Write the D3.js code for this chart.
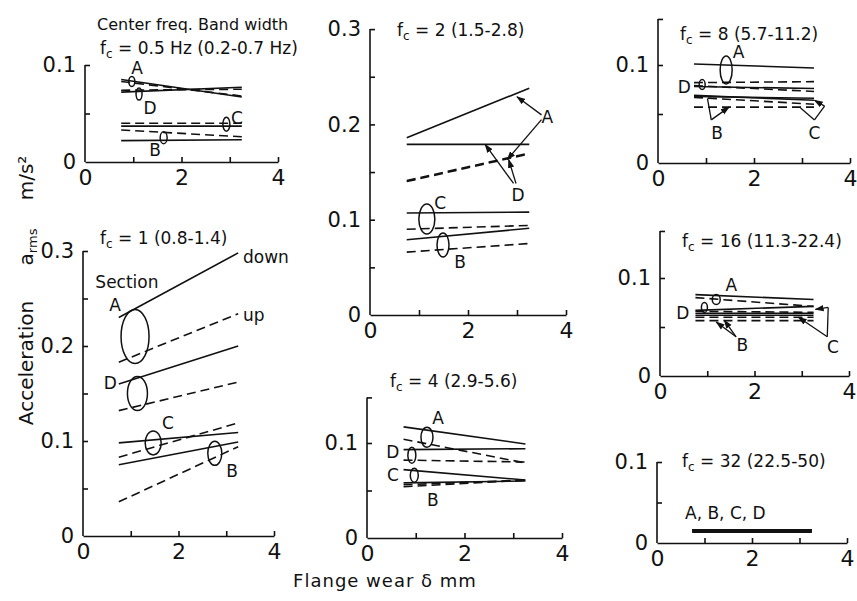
<!DOCTYPE html>
<html>
<head>
<meta charset="utf-8">
<script src="https://cdn.jsdelivr.net/npm/d3@7"></script>
<style>
  body { margin: 0; background: #fff; }
  svg text { font-family: "DejaVu Sans", sans-serif; fill: #111; }
</style>
</head>
<body>
<svg id="chart" width="857" height="601"></svg>
<script>
// flange wear range covered by the runs (mm)
var wear = [0.75, 3.25];

// centre frequencies and band widths of the seven panels
var centreFreqs = ["0.5 Hz", "1", "2", "4", "8", "16", "32"];
var bandWidths = ["(0.2-0.7 Hz)", "(0.8-1.4)", "(1.5-2.8)", "(2.9-5.6)", "(5.7-11.2)", "(11.3-22.4)", "(22.5-50)"];

// rows: section, running direction, a_rms at small wear, a_rms at large wear
var fc05 = [
  ["A", "down", 0.085, 0.067], ["A", "up", 0.083, 0.068],
  ["D", "down", 0.072, 0.077], ["D", "up", 0.074, 0.075],
  ["C", "down", 0.037, 0.037], ["C", "up", 0.040, 0.040],
  ["B", "down", 0.022, 0.023], ["B", "up", 0.033, 0.026]
];
var fc1 = [
  ["A", "down", 0.230, 0.298], ["A", "up", 0.183, 0.234],
  ["D", "down", 0.160, 0.200], ["D", "up", 0.132, 0.162],
  ["C", "down", 0.098, 0.109], ["C", "up", 0.083, 0.119],
  ["B", "down", 0.075, 0.099], ["B", "up", 0.036, 0.094]
];
var fc2 = [
  ["A", "down", 0.186, 0.238], ["A", "up", 0.140, 0.169],
  ["D", "down", 0.179, 0.179], ["D", "up", 0.141, 0.170],
  ["C", "down", 0.107, 0.108], ["C", "up", 0.090, 0.094],
  ["B", "down", 0.079, 0.091], ["B", "up", 0.066, 0.075]
];
var fc4 = [
  ["A", "down", 0.117, 0.099], ["A", "up", 0.104, 0.079],
  ["D", "down", 0.093, 0.094], ["D", "up", 0.082, 0.080],
  ["C", "down", 0.072, 0.061], ["C", "up", 0.056, 0.061],
  ["B", "down", 0.058, 0.060], ["B", "up", 0.054, 0.061]
];
var fc8 = [
  ["A", "down", 0.101, 0.097], ["A", "up", 0.082, 0.083],
  ["D", "down", 0.078, 0.076], ["D", "up", 0.079, 0.073],
  ["C", "down", 0.069, 0.064], ["C", "up", 0.067, 0.060],
  ["B", "down", 0.068, 0.066], ["B", "up", 0.057, 0.057]
];
var fc16 = [
  ["A", "down", 0.083, 0.078], ["A", "up", 0.080, 0.071],
  ["D", "down", 0.067, 0.071], ["D", "up", 0.066, 0.065],
  ["C", "down", 0.064, 0.064], ["C", "up", 0.060, 0.060],
  ["B", "down", 0.062, 0.062], ["B", "up", 0.0565, 0.0565]
];
var fc32 = [
  ["A", "down", 0.015, 0.015], ["A", "up", 0.015, 0.015],
  ["B", "down", 0.015, 0.015], ["B", "up", 0.015, 0.015],
  ["C", "down", 0.015, 0.015], ["C", "up", 0.015, 0.015],
  ["D", "down", 0.015, 0.015], ["D", "up", 0.015, 0.015]
];

var svg = d3.select("#chart");
var ink = "#111";

// arrow head for the leader lines
svg.append("defs").append("marker")
  .attr("id", "head")
  .attr("viewBox", "0 0 10 10")
  .attr("refX", 9).attr("refY", 5)
  .attr("markerWidth", 7).attr("markerHeight", 7)
  .attr("orient", "auto")
  .append("path").attr("d", "M0,1.5 L10,5 L0,8.5 Z").attr("fill", ink);

// layout of each panel: x pixels of 0 and 4 mm, y pixel of zero, pixels per 0.1
var panels = [
  { rows: fc05, x: [85, 278], y0: 162, unit: 97, top: 0.1, ylab: [0, 0.1], tx: 100, ty: 54 },
  { rows: fc1, x: [83, 274], y0: 536, unit: 95, top: 0.3, ylab: [0, 0.1, 0.2, 0.3], tx: 100, ty: 244 },
  { rows: fc2, x: [370, 566], y0: 315, unit: 95.3, top: 0.3, ylab: [0, 0.1, 0.2, 0.3], tx: 397, ty: 36 },
  { rows: fc4, x: [367, 562], y0: 538, unit: 95, top: 0.148, ylab: [0, 0.1], tx: 390, ty: 387 },
  { rows: fc8, x: [658, 850], y0: 163, unit: 98, top: 0.147, ylab: [0, 0.1], tx: 680, ty: 40 },
  { rows: fc16, x: [660, 849], y0: 376, unit: 98, top: 0.148, ylab: [0, 0.1], tx: 682, ty: 247 },
  { rows: fc32, x: [657, 847], y0: 543, unit: 81, top: 0.1, ylab: [0, 0.1], tx: 682, ty: 467 }
];

panels.forEach(function(p, i) {
  var x = d3.scaleLinear().domain([0, 4]).range(p.x);
  var y = d3.scaleLinear().domain([0, 0.1]).range([p.y0, p.y0 - p.unit]);
  p.xs = x; p.ys = y;
  var g = svg.append("g");

  // x axis: inward ticks at 1..4, labels at 0, 2, 4
  g.append("g").attr("transform", "translate(0," + p.y0 + ")")
    .call(d3.axisBottom(x).tickValues([1, 2, 3, 4]).tickSizeInner(-5).tickSizeOuter(0).tickFormat(""));
  g.append("g").attr("transform", "translate(0," + p.y0 + ")")
    .call(d3.axisBottom(x).tickValues([0, 2, 4]).tickSize(0).tickPadding(7).tickFormat(d3.format("d")))
    .call(function(s) { s.select(".domain").remove(); })
    .selectAll("text").style("font-size", "22px").attr("fill", ink);

  // y axis: inward ticks every 0.05, bracket at the top
  var yt = d3.range(0.05, p.top + 0.001, 0.05);
  if (Math.abs(yt[yt.length - 1] - p.top) > 0.004) yt.push(p.top);
  var ya = g.append("g").attr("transform", "translate(" + p.x[0] + ",0)")
    .call(d3.axisLeft(y).tickValues(yt).tickSizeInner(-5).tickSizeOuter(0).tickFormat(""));
  ya.select(".domain").attr("d", "M0," + p.y0 + "V" + y(p.top));
  g.append("g").attr("transform", "translate(" + p.x[0] + ",0)")
    .call(d3.axisLeft(y).tickValues(p.ylab).tickSize(0).tickPadding(9)
      .tickFormat(function(d) { return d === 0 ? "0" : d.toFixed(1); }))
    .call(function(s) { s.select(".domain").remove(); })
    .selectAll("text").style("font-size", "21px").attr("fill", ink);

  g.selectAll(".domain, .tick line").attr("stroke", ink).attr("stroke-width", 1.6);

  // the measured lines, down = solid, up = dashed
  var line = d3.line().x(function(d) { return x(d[0]); }).y(function(d) { return y(d[1]); });
  g.selectAll("path.run")
    .data(p.rows)
    .enter()
    .append("path")
    .attr("class", "run")
    .attr("d", function(r) { return line([[wear[0], r[2]], [wear[1], r[3]]]); })
    .attr("fill", "none")
    .attr("stroke", ink)
    .attr("stroke-width", i === 6 ? 3.5 : 1.6)
    .attr("stroke-dasharray", function(r) { return r[1] === "up" && i !== 6 ? "9,5" : null; });

  // panel title  f_c = ... (band)
  var t = g.append("text").attr("x", p.tx).attr("y", p.ty).style("font-size", "17px");
  t.append("tspan").text("f");
  t.append("tspan").attr("dy", 4).style("font-size", "12px").text("c");
  t.append("tspan").attr("dy", -4).text(" = " + centreFreqs[i] + " " + bandWidths[i]);
});

// helpers for annotations in data units
function label(p, txt, xv, yv, anchor, size) {
  var pp = panels[p];
  svg.append("text").attr("x", pp.xs(xv)).attr("y", pp.ys(yv)).attr("dy", "0.36em")
    .attr("text-anchor", anchor || "middle").style("font-size", (size || 17) + "px").text(txt);
}
function ring(p, xv, yv, rx, ry) {
  var pp = panels[p];
  svg.append("ellipse").attr("cx", pp.xs(xv)).attr("cy", pp.ys(yv)).attr("rx", rx).attr("ry", ry)
    .attr("fill", "none").attr("stroke", ink).attr("stroke-width", 1.5);
}
function leader(p, x1, y1, x2, y2, head) {
  var pp = panels[p];
  svg.append("line").attr("x1", pp.xs(x1)).attr("y1", pp.ys(y1)).attr("x2", pp.xs(x2)).attr("y2", pp.ys(y2))
    .attr("stroke", ink).attr("stroke-width", 1.3).attr("marker-end", head ? "url(#head)" : null);
}

// panel header text
svg.append("text").attr("x", 97).attr("y", 30).style("font-size", "16px").text("Center freq.  Band width");

// fc = 0.5
ring(0, 0.97, 0.083, 3, 5); ring(0, 1.12, 0.070, 3, 6); ring(0, 2.93, 0.039, 3.5, 7); ring(0, 1.63, 0.025, 3.5, 6);
label(0, "A", 1.08, 0.097); label(0, "D", 1.35, 0.056); label(0, "C", 3.15, 0.046); label(0, "B", 1.45, 0.012);

// fc = 1
ring(1, 1.09, 0.21, 14, 27); ring(1, 1.14, 0.15, 10, 17); ring(1, 1.47, 0.098, 8, 12); ring(1, 2.76, 0.087, 7, 12);
label(1, "Section", 0.92, 0.267); label(1, "A", 0.67, 0.243);
label(1, "down", 3.35, 0.294, "start"); label(1, "up", 3.35, 0.233, "start");
label(1, "D", 0.57, 0.161); label(1, "C", 1.78, 0.119); label(1, "B", 3.12, 0.069);

// fc = 2
ring(2, 1.16, 0.1007, 8, 15); ring(2, 1.49, 0.0735, 6, 12);
label(2, "C", 1.43, 0.1175); label(2, "B", 1.84, 0.0556); label(2, "A", 3.62, 0.208); label(2, "D", 3.02, 0.126);
leader(2, 3.5, 0.21, 3.0, 0.229, true); leader(2, 3.5, 0.205, 2.8, 0.163, true);
leader(2, 2.93, 0.138, 2.35, 0.179, true); leader(2, 2.98, 0.138, 2.83, 0.163, true);

// fc = 4
ring(3, 1.23, 0.106, 6, 10); ring(3, 0.92, 0.087, 4, 8); ring(3, 0.97, 0.066, 4, 7);
label(3, "A", 1.46, 0.126); label(3, "D", 0.53, 0.091); label(3, "C", 0.53, 0.066); label(3, "B", 1.35, 0.040);

// fc = 8
ring(4, 1.42, 0.095, 6, 14); ring(4, 0.92, 0.080, 3, 5);
label(4, "A", 1.68, 0.113); label(4, "D", 0.55, 0.078); label(4, "B", 1.23, 0.031); label(4, "C", 3.26, 0.031);
leader(4, 1.11, 0.044, 1.03, 0.066, false); leader(4, 1.11, 0.044, 1.48, 0.057, true);
leader(4, 3.26, 0.044, 2.97, 0.056, false); leader(4, 3.26, 0.044, 3.47, 0.058, false);
leader(4, 3.47, 0.058, 3.26, 0.064, true);

// fc = 16
ring(5, 1.19, 0.078, 4, 5); ring(5, 0.94, 0.070, 3, 5);
label(5, "A", 1.51, 0.093); label(5, "D", 0.48, 0.064); label(5, "B", 1.74, 0.032); label(5, "C", 3.66, 0.030);
leader(5, 1.61, 0.040, 1.19, 0.055, true); leader(5, 1.61, 0.040, 1.36, 0.057, true);
leader(5, 3.54, 0.040, 2.93, 0.060, true); leader(5, 3.54, 0.040, 3.56, 0.070, false);
leader(5, 3.56, 0.070, 3.29, 0.068, true);

// fc = 32
label(6, "A, B, C, D", 0.59, 0.037, "start");

// axis titles
svg.append("text").attr("transform", "translate(33,363) rotate(-90)").attr("text-anchor", "middle")
  .style("font-size", "20px").text("Acceleration");
var ar = svg.append("text").attr("transform", "translate(33,247) rotate(-90)").attr("text-anchor", "middle")
  .style("font-size", "20px");
ar.append("tspan").text("a");
ar.append("tspan").attr("dy", 4).style("font-size", "13px").text("rms");
svg.append("text").attr("transform", "translate(33,178) rotate(-90)").attr("text-anchor", "middle")
  .style("font-size", "20px").text("m/s²");
svg.append("text").attr("x", 385).attr("y", 587).attr("text-anchor", "middle")
  .style("font-size", "18px").style("letter-spacing", "1px").text("Flange wear  δ  mm");
</script>
</body>
</html>
